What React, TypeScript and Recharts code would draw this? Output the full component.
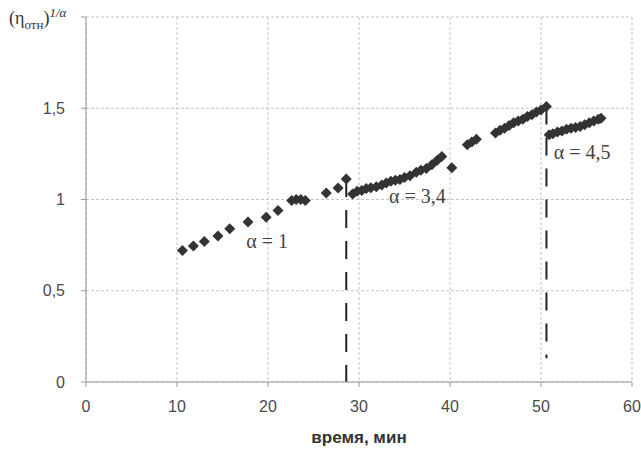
import {
  ComposedChart,
  Scatter,
  XAxis,
  YAxis,
  CartesianGrid,
  ReferenceLine,
  ReferenceDot,
  Label,
} from "recharts";

// α = 1
const seg1X = [10.6, 11.8, 13.0, 14.5, 15.8, 17.8, 19.8, 21.1, 22.6, 23.1, 23.6, 24.1, 26.4, 27.7, 28.6];
const seg1Y = [0.72, 0.745, 0.77, 0.8, 0.84, 0.877, 0.903, 0.94, 0.995, 1.0, 1.0, 0.995, 1.035, 1.063, 1.112];

// α = 3,4
const seg2X = [
  29.3, 29.8, 30.3, 30.8, 31.3, 31.9, 32.5, 33.0, 33.5, 34.0, 34.5, 35.0, 35.6, 36.3, 36.8, 37.4, 38.0, 38.6,
  39.1, 40.2, 41.9, 42.4, 42.9, 45.0, 45.5, 46.0, 46.5, 47.0, 47.5, 48.0, 48.5, 49.0, 49.5, 50.0, 50.6,
];
const seg2Y = [
  1.03, 1.045, 1.05, 1.06, 1.065, 1.07, 1.08, 1.09, 1.1, 1.105, 1.11, 1.12, 1.13, 1.15, 1.16, 1.17, 1.19, 1.215,
  1.235, 1.174, 1.3, 1.315, 1.33, 1.365, 1.38, 1.39, 1.405, 1.42, 1.43, 1.44, 1.455, 1.465, 1.48, 1.49, 1.51,
];

// α = 4,5
const seg3X = [50.9, 51.3, 51.8, 52.3, 52.8, 53.3, 53.8, 54.3, 54.8, 55.3, 55.8, 56.3, 56.6];
const seg3Y = [1.355, 1.36, 1.37, 1.375, 1.385, 1.39, 1.395, 1.4, 1.41, 1.42, 1.43, 1.44, 1.445];

// where α changes: vertical dashed lines
const breakX = [28.6, 50.6];
const breakTop = [1.112, 1.51];
const breakBottom = [0, 0.13];

const alphaLabels = ["α = 1", "α = 3,4", "α = 4,5"];
const alphaLabelX = [17.6, 33.3, 51.4];
const alphaLabelY = [0.775, 1.02, 1.26];

const xTicks = [0, 10, 20, 30, 40, 50, 60];
const yTicks = [0, 0.5, 1, 1.5, 2];

const toPoints = (xs: number[], ys: number[]) => xs.map((x, i) => ({ x, y: ys[i] }));
const seg1 = toPoints(seg1X, seg1Y);
const seg2 = toPoints(seg2X, seg2Y);
const seg3 = toPoints(seg3X, seg3Y);

const tickStyle = { fill: "#4a4a4a", fontSize: 16, fontFamily: "Liberation Sans, Arial, sans-serif" };

const Diamond = (props: any) => {
  const { cx, cy } = props;
  const r = 5.5;
  return (
    <path
      d={`M${cx},${cy - r} L${cx + r},${cy} L${cx},${cy + r} L${cx - r},${cy} Z`}
      fill="#333"
    />
  );
};

const AlphaText = (text: string) => (props: any) => {
  const vb = props.viewBox || {};
  return (
    <text
      x={vb.x}
      y={vb.y}
      dy="0.35em"
      textAnchor="start"
      fill="#444"
      fontSize={20}
      fontFamily="Liberation Serif, Times New Roman, serif"
    >
      {text}
    </text>
  );
};

export default function App() {
  return (
    <div style={{ position: "absolute", left: 0, top: 0, width: 641, height: 455, background: "#fff" }}>
      <ComposedChart width={641} height={455} margin={{ top: 17, right: 9, bottom: 0, left: 0 }}>
        <CartesianGrid stroke="#c4c4c4" strokeDasharray="3 2" />
        <XAxis
          dataKey="x"
          type="number"
          domain={[0, 60]}
          ticks={xTicks}
          height={73}
          tick={tickStyle}
          tickSize={5}
          tickMargin={14}
          axisLine={{ stroke: "#999" }}
          tickLine={{ stroke: "#999" }}
        >
          <Label
            value="время, мин"
            position="insideBottom"
            offset={12}
            fill="#333"
            fontSize={17}
            fontWeight="bold"
            fontFamily="Liberation Sans, Arial, sans-serif"
          />
        </XAxis>
        <YAxis
          dataKey="y"
          type="number"
          domain={[0, 2]}
          ticks={yTicks}
          width={86}
          tick={tickStyle}
          tickSize={5}
          tickMargin={16}
          tickFormatter={(v: number) => (v === 2 ? "" : String(v).replace(".", ","))}
          axisLine={{ stroke: "#999" }}
          tickLine={{ stroke: "#999" }}
        />
        {breakX.map((bx, i) => (
          <ReferenceLine
            key={"b" + i}
            segment={[
              { x: bx, y: breakTop[i] },
              { x: bx, y: breakBottom[i] },
            ]}
            stroke="#222"
            strokeWidth={2}
            strokeDasharray="18 13"
          />
        ))}
        <Scatter data={seg1} dataKey="y" shape={Diamond} isAnimationActive={false} />
        <Scatter data={seg2} dataKey="y" shape={Diamond} isAnimationActive={false} />
        <Scatter data={seg3} dataKey="y" shape={Diamond} isAnimationActive={false} />
        {alphaLabels.map((t, i) => (
          <ReferenceDot
            key={"a" + i}
            x={alphaLabelX[i]}
            y={alphaLabelY[i]}
            r={0}
            fill="none"
            stroke="none"
            label={AlphaText(t)}
          />
        ))}
      </ComposedChart>
      <div
        style={{
          position: "absolute",
          left: 9,
          top: 3,
          fontFamily: "Liberation Serif, Times New Roman, serif",
          fontSize: 18,
          color: "#333",
          whiteSpace: "nowrap",
          lineHeight: "20px",
        }}
      >
        (η<sub style={{ fontSize: 13 }}>отн</sub>)<sup style={{ fontSize: 13, fontStyle: "italic" }}>1/α</sup>
      </div>
    </div>
  );
}
